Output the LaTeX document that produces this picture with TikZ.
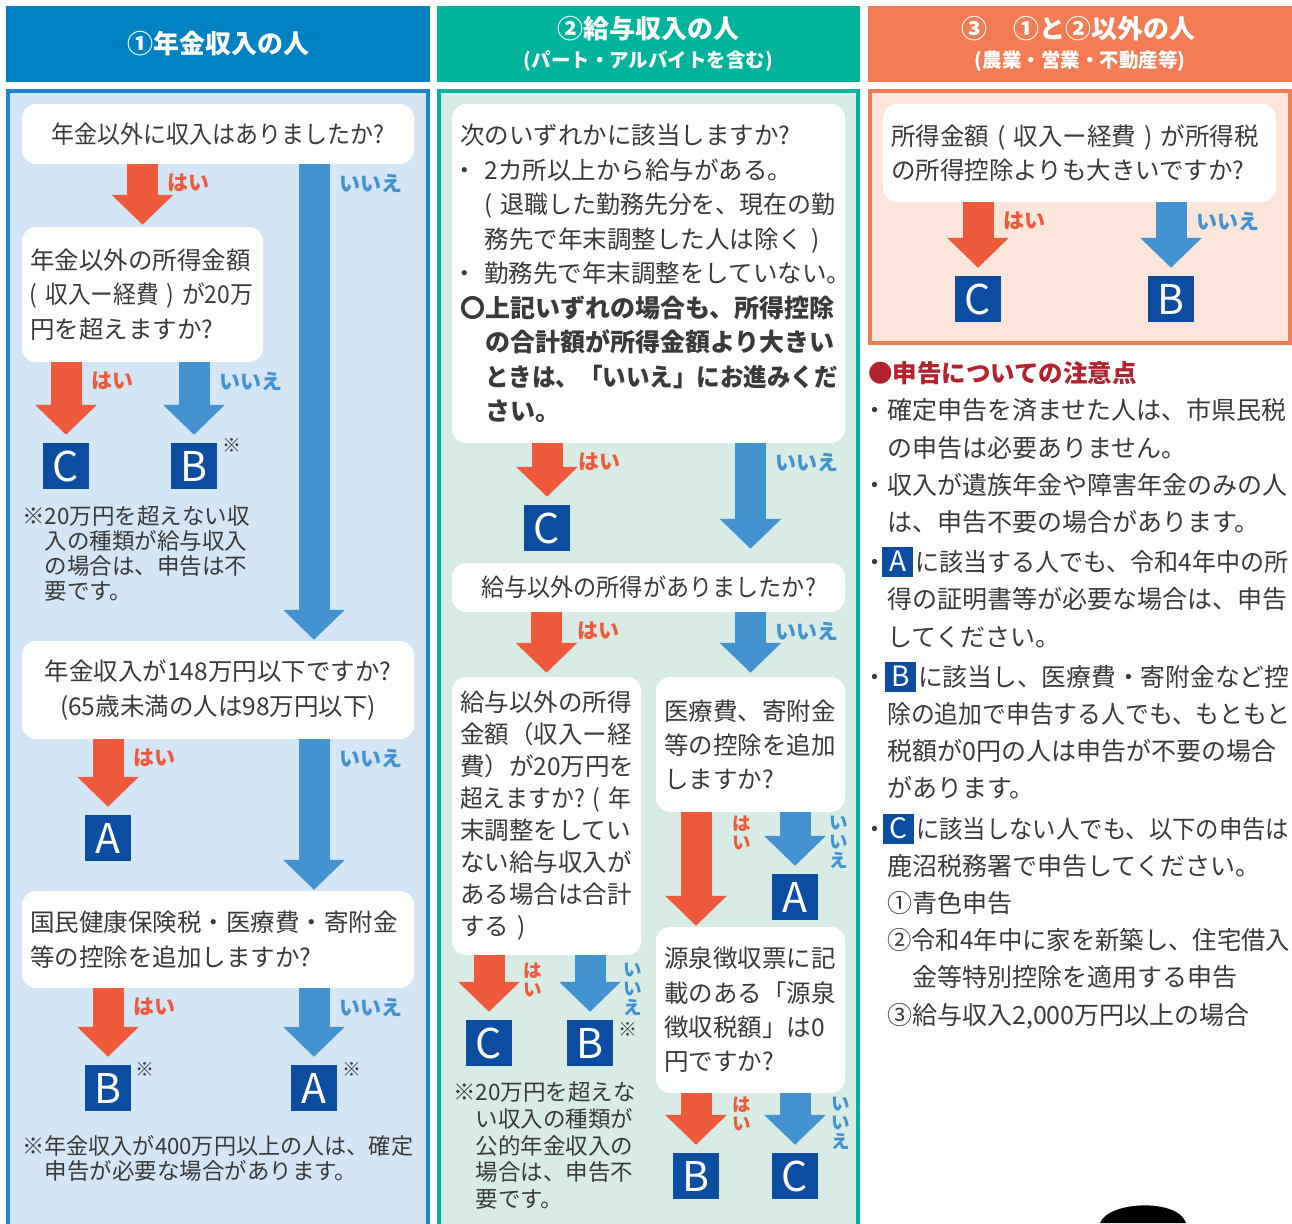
\documentclass[tikz,border=0pt]{standalone}
\usepackage{fontspec}
\usepackage{graphicx}
\setmainfont{Noto Sans CJK JP}
\usetikzlibrary{arrows.meta, positioning, calc}

\definecolor{hdblue}{HTML}{0081C1}
\definecolor{hdteal}{HTML}{00B49C}
\definecolor{hdorange}{HTML}{F37C55}
\definecolor{lnblue}{HTML}{1B87C9}
\definecolor{bgblue}{HTML}{D4E5F5}
\definecolor{bgteal}{HTML}{D8ECE5}
\definecolor{bgorange}{HTML}{FCE5DB}
\definecolor{yesred}{HTML}{F05A3C}
\definecolor{noblue}{HTML}{4493D0}
\definecolor{boxblue}{HTML}{0D4DA1}
\definecolor{txtgray}{HTML}{3A3A3A}
\definecolor{headred}{HTML}{B3222F}

\newcommand{\qfont}{\fontsize{24.5}{34.5}\selectfont}
\newcommand{\notefont}{\fontsize{22.5}{25}\selectfont}
\newcommand{\lblfont}{\fontsize{21}{21}\selectfont\bfseries}
\newcommand{\vlblfont}{\fontsize{18.5}{19}\selectfont\bfseries}
\newcommand{\boldln}{\fontsize{25}{34.5}\selectfont\bfseries}
\newcommand{\fitto}[2]{\resizebox{#1}{\height}{#2}}
\newcommand{\qdot}{\makebox[24.5pt][l]{\hspace{-8pt}・}}
\newcommand{\inbox}[1]{{\setlength{\fboxsep}{0pt}\colorbox{boxblue}{\makebox[31pt]{\rule[-5.5pt]{0pt}{30pt}\fontsize{28}{28}\selectfont\color{white}#1}}}}

\tikzset{
  header/.style={minimum width=424pt, minimum height=76pt, inner sep=0pt},
  hdtext/.style={text=white, font=\fontsize{26}{26}\selectfont\bfseries, inner sep=0pt},
  hdsub/.style={text=white, font=\fontsize{19.5}{19.5}\selectfont\bfseries, inner sep=0pt},
  qbox/.style={fill=white, rounded corners=14pt, inner sep=8pt, text=txtgray, font=\qfont, align=center},
  qboxl/.style={qbox, align=left},
  letter/.style={fill=boxblue, text=white, minimum size=46pt, inner sep=0pt, font=\fontsize{41}{41}\selectfont},
  kome/.style={text=txtgray, inner sep=0pt, font=\fontsize{19}{19}\selectfont},
  note/.style={text=txtgray, inner sep=0pt, align=left, anchor=north west, font=\notefont},
  yesarr/.style={draw=yesred, line width=31pt, -{Triangle[width=60pt,length=30pt]}, shorten >=8pt},
  noarr/.style={yesarr, draw=noblue},
  yeslbl/.style={text=yesred, inner sep=0pt, outer sep=0pt, anchor=west, xshift=25pt, yshift=-19pt, font=\lblfont},
  nolbl/.style={yeslbl, text=noblue},
  yesv/.style={text=yesred, inner sep=0pt, outer sep=0pt, anchor=north west, xshift=36pt, yshift=-4pt, align=center, font=\vlblfont},
  nov/.style={yesv, text=noblue}
}

\begin{document}
\begin{tikzpicture}[x=1pt, y=-1pt]
\useasboundingbox (0,0) rectangle (1292,1223);

% headers
\node[header, hdtext, fill=hdblue] (h1) at (218,44) {①年金収入の人};
\node[header, fill=hdteal, minimum width=423pt] (h2) at (648.5,44) {};
\node[hdtext] (h2t) at (648.5,29) {②給与収入の人};
\node[hdsub] (h2s) at (648.5,61) {(パート・アルバイトを含む)};
\node[header, fill=hdorange] (h3) at (1080,44) {};
\node[hdtext] (h3t) at (1078,29) {③　①と②以外の人};
\node[hdsub] (h3s) at (1080,61) {(農業・営業・不動産等)};

% panels
\draw[line width=4pt, draw=lnblue, fill=bgblue] (8,91) rectangle (428,1240);
\draw[line width=4pt, draw=hdteal, fill=bgteal] (439,91) rectangle (858,1240);
\draw[line width=4pt, draw=hdorange, fill=bgorange] (870,91) rectangle (1290,343);

% column 1
\node[qbox, minimum width=392pt, minimum height=60pt] (q1) at (218,134) {\fitto{333pt}{年金以外に収入はありましたか?}};
\node[qboxl, text width=225pt, minimum height=135pt] (q2) at (142.5,294.5) {年金以外の所得金額\\\fitto{223pt}{(~収入ー経費~)~が20万}\\円を超えますか?};
\node[letter] (c1) at (66,466) {C};
\node[letter] (b1) at (194,466) {B};
\node[kome] (k1) at ($(b1.north east)+(15,3)$) {※};
\node[note] (n1) at (22,505.75) {※20万円を超えない収\\\phantom{※}入の種類が給与収入\\\phantom{※}の場合は、申告は不\\\phantom{※}要です。};
\node[qbox, minimum width=392pt, minimum height=98pt] (q3) at (218,690) {年金収入が148万円以下ですか?\\(65歳未満の人は98万円以下)};
\node[letter] (a1) at (108,838) {A};
\node[qboxl, text width=376pt, minimum height=97pt] (q4) at (218,939.5) {国民健康保険税・医療費・寄附金\\等の控除を追加しますか?};
\node[letter] (b2) at (108,1088) {B};
\node[letter] (a2) at (314,1088) {A};
\node[kome] (k2) at ($(b2.north east)+(14,5)$) {※};
\node[kome] (k3) at ($(a2.north east)+(15,5)$) {※};
\node[note] (n2) at (22,1134.75) {\fitto{391pt}{※年金収入が400万円以上の人は、確定}\\\phantom{※}申告が必要な場合があります。};

\draw[yesarr, shorten >=2pt] (q1.south -| q2.north) node[yeslbl] {はい} -- (q2.north);
\draw[noarr, shorten >=1pt] (q1.south -| a2) node[nolbl] {いいえ} -- (q3.north -| a2);
\draw[yesarr] (q2.south -| c1) node[yeslbl] {はい} -- (c1.north);
\draw[noarr] (q2.south -| b1) node[nolbl] {いいえ} -- (b1.north);
\draw[yesarr] (q3.south -| a1) node[yeslbl] {はい} -- (a1.north);
\draw[noarr, shorten >=1pt] (q3.south -| a2) node[nolbl] {いいえ} -- (q4.north -| a2);
\draw[yesarr] (q4.south -| b2) node[yeslbl] {はい} -- (b2.north);
\draw[noarr] (q4.south -| a2) node[nolbl] {いいえ} -- (a2.north);

% column 2
\node[qboxl, text width=377pt, minimum height=339pt] (q5) at (648.5,273.5) {次のいずれかに該当しますか?\\
\qdot 2カ所以上から給与がある。\\
\phantom{・}\fitto{351pt}{(~退職した勤務先分を、現在の勤}\\
\phantom{・}務先で年末調整した人は除く~)\\
\qdot 勤務先で年末調整をしていない。\\
{\boldln 〇上記いずれの場合も、所得控除}\\
{\boldln \phantom{〇}の合計額が所得金額より大きい}\\
{\boldln \phantom{〇}\fitto{353pt}{ときは、「いいえ」にお進みくだ}}\\
{\boldln \phantom{〇}さい。}};
\node[letter] (c3) at (547,528) {C};
\node[qbox, minimum width=393pt, minimum height=49pt] (q6) at (648.5,587.5) {\fitto{335pt}{給与以外の所得がありましたか?}};
\node[qboxl, text width=173pt, minimum height=278pt, font=\fontsize{24.5}{32}\selectfont] (q7) at (546.5,816) {給与以外の所得\\金額（収入ー経\\費）が20万円を\\\fitto{171pt}{超えますか?~(~年}\\末調整をしてい\\ない給与収入が\\ある場合は合計\\する~)};
\node[qboxl, text width=173pt, minimum height=135pt, font=\fontsize{24.5}{34}\selectfont] (q8) at (750.5,744.5) {医療費、寄附金\\等の控除を追加\\しますか?};
\node[letter] (a3) at (795,897) {A};
\node[qboxl, text width=173pt, minimum height=166pt, font=\fontsize{24.5}{34.3}\selectfont] (q9) at (750.5,1010) {源泉徴収票に記\\載のある「源泉\\徴収税額」は0\\円ですか?};
\node[letter] (c4) at (489,1043) {C};
\node[letter] (b3) at (590,1043) {B};
\node[kome] (k4) at ($(b3.north east)+(15,10)$) {※};
\node[note, font=\fontsize{22.5}{26.7}\selectfont] (n3) at (453,1081.75) {※20万円を超えな\\\phantom{※}い収入の種類が\\\phantom{※}公的年金収入の\\\phantom{※}場合は、申告不\\\phantom{※}要です。};
\node[letter] (b4) at (696,1176) {B};
\node[letter] (c5) at (795,1176) {C};

\draw[yesarr] (q5.south -| c3) node[yeslbl, xshift=6pt] {はい} -- (c3.north);
\draw[noarr, shorten >=14pt] (q5.south -| q8) node[nolbl] {いいえ} -- (q6.north -| q8);
\draw[yesarr, shorten >=4pt] (q6.south -| q7) node[yeslbl, xshift=6pt] {はい} -- (q7.north);
\draw[noarr, shorten >=4pt] (q6.south -| q8) node[nolbl] {いいえ} -- (q8.north);
\draw[yesarr, shorten >=1pt] (q8.south -| b4) node[yesv] {は\\い} -- (q9.north -| b4);
\draw[noarr] (q8.south -| a3) node[nov, xshift=-2pt] {い\\い\\え} -- (a3.north);
\draw[yesarr] (q7.south -| c4) node[yesv, xshift=-2pt, yshift=-4pt] {は\\い} -- (c4.north);
\draw[noarr] (q7.south -| b3) node[nov, xshift=-3pt, yshift=-4pt] {い\\い\\え} -- (b3.north);
\draw[yesarr] (q9.south -| b4) node[yesv] {は\\い} -- (b4.north);
\draw[noarr] (q9.south -| c5) node[nov] {い\\い\\え} -- (c5.north);

% column 3
\node[qboxl, text width=377pt, minimum height=98pt] (q10) at (1079.5,153) {\makebox[377pt][s]{所得金額 ( 収入ー経費 ) が所得税}\\の所得控除よりも大きいですか?};
\node[letter] (c6) at (978,299) {C};
\node[letter] (b5) at (1171,299) {B};
\draw[yesarr] (q10.south -| c6) node[yeslbl] {はい} -- (c6.north);
\draw[noarr] (q10.south -| b5) node[nolbl] {いいえ} -- (b5.north);

\node[anchor=west, inner sep=0pt, text=headred, font=\fontsize{24.5}{24.5}\selectfont\bfseries] (nhead) at (868,373) {●申告についての注意点};
\node[note, font=\fontsize{25}{37.2}\selectfont] (notes) at (862,398.5) {・確定申告を済ませた人は、市県民税\\
\phantom{・}の申告は必要ありません。\\
・収入が遺族年金や障害年金のみの人\\
\phantom{・}は、申告不要の場合があります。\\[3pt]
\makebox[20pt][l]{・}\inbox{A}\hspace{2pt}\fitto{373pt}{に該当する人でも、令和4年中の所}\\
\phantom{・}得の証明書等が必要な場合は、申告\\
\phantom{・}してください。\\[3pt]
\makebox[23pt][l]{・}\inbox{B}\hspace{2pt}\fitto{371pt}{に該当し、医療費・寄附金など控}\\
\phantom{・}\fitto{403pt}{除の追加で申告する人でも、もともと}\\
\phantom{・}税額が0円の人は申告が不要の場合\\
\phantom{・}があります。\\[3pt]
\makebox[21pt][l]{・}\inbox{C}\hspace{2pt}\fitto{373pt}{に該当しない人でも、以下の申告は}\\
\phantom{・}鹿沼税務署で申告してください。\\
\phantom{・}①青色申告\\
\phantom{・}\fitto{403pt}{②令和4年中に家を新築し、住宅借入}\\
\phantom{・②}金等特別控除を適用する申告\\
\phantom{・}③給与収入2,000万円以上の場合};

\fill[black] (1100,1223) .. controls (1108,1201) and (1178,1198) .. (1186,1223) -- cycle;
\end{tikzpicture}
\end{document}
